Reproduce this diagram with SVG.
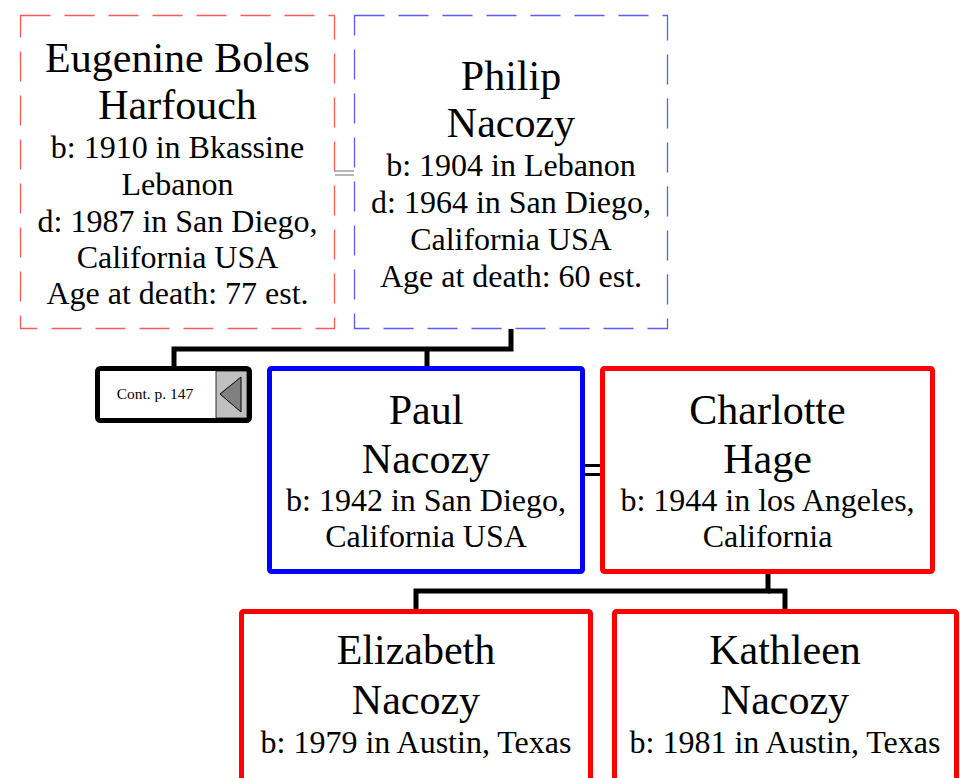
<svg xmlns="http://www.w3.org/2000/svg" width="960" height="778" viewBox="0 0 960 778">
<style>
text{font-family:"Liberation Serif","Times New Roman",serif;fill:#000;text-anchor:middle}
.nm{font-size:42px}
.dt{font-size:32px}
.pf{fill:#fff;stroke:#ff5a5a;stroke-width:1.3;stroke-dasharray:30 14}
.pm{fill:#fff;stroke:#5a5aff;stroke-width:1.3;stroke-dasharray:30 14}
.m{fill:#fff;stroke:#0000ff;stroke-width:5}
.f{fill:#fff;stroke:#ff0000;stroke-width:5}
.ln{fill:none;stroke:#000;stroke-width:5;stroke-linejoin:miter}
</style>
<g id="connectors">
<line x1="335" y1="171" x2="354" y2="171" stroke="#888" stroke-width="1.2"/>
<line x1="335" y1="175" x2="354" y2="175" stroke="#888" stroke-width="1.2"/>
<polyline class="ln" points="511,329 511,349 174,349 174,368"/>
<line class="ln" x1="427" y1="349" x2="427" y2="368"/>
<line x1="584" y1="465.5" x2="601" y2="465.5" stroke="#000" stroke-width="3"/>
<line x1="584" y1="474.5" x2="601" y2="474.5" stroke="#000" stroke-width="3"/>
<polyline class="ln" points="768,573 768,591 416,591 416,611"/>
<polyline class="ln" points="768,591 785,591 785,611"/>
</g>
<g id="eugenine">
<rect class="pf" x="20.5" y="15.5" width="314" height="313"/>
<text class="nm" x="177.5" y="72">Eugenine Boles</text>
<text class="nm" x="177.5" y="119">Harfouch</text>
<text class="dt" x="177.5" y="158">b: 1910 in Bkassine</text>
<text class="dt" x="177.5" y="195">Lebanon</text>
<text class="dt" x="177.5" y="232">d: 1987 in San Diego,</text>
<text class="dt" x="177.5" y="268">California USA</text>
<text class="dt" x="177.5" y="304">Age at death: 77 est.</text>
</g>
<g id="philip">
<rect class="pm" x="354.5" y="15.5" width="313" height="313"/>
<text class="nm" x="511" y="90">Philip</text>
<text class="nm" x="511" y="137">Nacozy</text>
<text class="dt" x="511" y="176">b: 1904 in Lebanon</text>
<text class="dt" x="511" y="213">d: 1964 in San Diego,</text>
<text class="dt" x="511" y="250">California USA</text>
<text class="dt" x="511" y="287">Age at death: 60 est.</text>
</g>
<g id="cont">
<rect x="97.5" y="368.5" width="152" height="52" rx="3" fill="#fff" stroke="#000" stroke-width="5"/>
<rect x="216" y="371" width="31" height="47" fill="#c0c0c0" stroke="#000" stroke-width="0.8"/>
<polygon points="220,394 241,377 241,412" fill="#808080" stroke="#000" stroke-width="1"/>
<text x="155" y="399" style="font-size:15.5px">Cont. p. 147</text>
</g>
<g id="paul">
<rect class="m" x="269.5" y="368.5" width="313" height="203" rx="2"/>
<text class="nm" x="426" y="424">Paul</text>
<text class="nm" x="426" y="473">Nacozy</text>
<text class="dt" x="426" y="511">b: 1942 in San Diego,</text>
<text class="dt" x="426" y="547">California USA</text>
</g>
<g id="charlotte">
<rect class="f" x="602.5" y="368.5" width="330" height="203" rx="2"/>
<text class="nm" x="767.5" y="424">Charlotte</text>
<text class="nm" x="767.5" y="473">Hage</text>
<text class="dt" x="767.5" y="511">b: 1944 in los Angeles,</text>
<text class="dt" x="767.5" y="547">California</text>
</g>
<g id="elizabeth">
<rect class="f" x="241.5" y="611.5" width="349" height="200" rx="2"/>
<text class="nm" x="416" y="664">Elizabeth</text>
<text class="nm" x="416" y="714">Nacozy</text>
<text class="dt" x="416" y="753">b: 1979 in Austin, Texas</text>
</g>
<g id="kathleen">
<rect class="f" x="614.5" y="611.5" width="342" height="200" rx="2"/>
<text class="nm" x="785" y="664">Kathleen</text>
<text class="nm" x="785" y="714">Nacozy</text>
<text class="dt" x="785" y="753">b: 1981 in Austin, Texas</text>
</g>
</svg>
